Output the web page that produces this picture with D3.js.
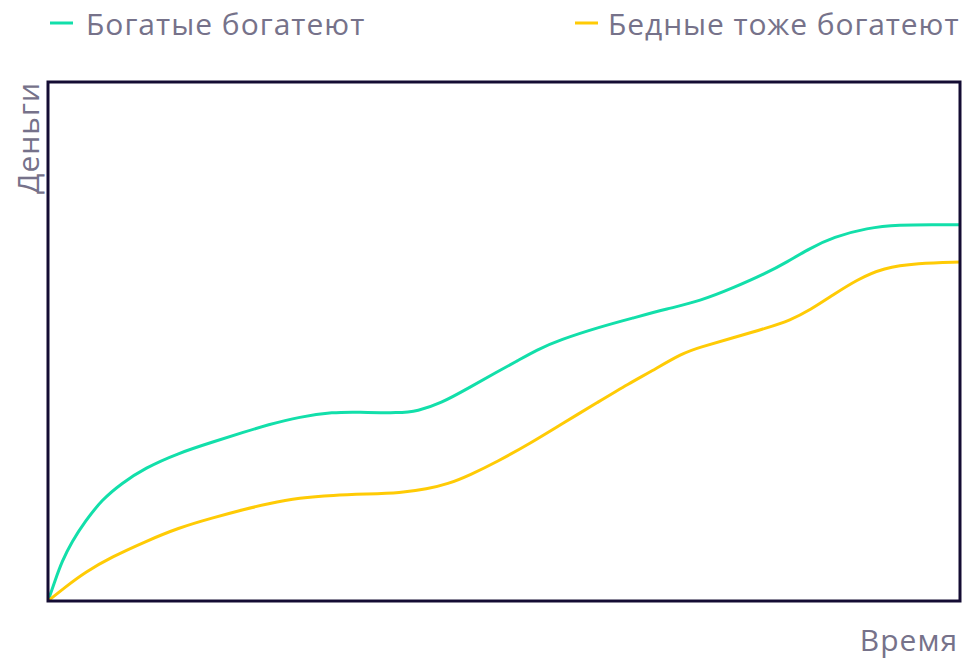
<!DOCTYPE html>
<html lang="ru">
<head>
<meta charset="utf-8">
<title>Богатые богатеют</title>
<script src="https://cdn.jsdelivr.net/npm/d3@7"></script>
<style>
  html, body { margin: 0; padding: 0; background: #ffffff; }
  svg { display: block; }
  text { font-family: "Open Sans", "Noto Sans", sans-serif; fill: #76728a; letter-spacing: 1px; }
</style>
</head>
<body>
<svg id="chart" width="962" height="659"></svg>
<script>
// Series: time (0–100) and money (0–100)
const richTime  = [0, 0.8, 1.5, 2.6, 4.1, 5.9, 8.1, 10.6, 14.3, 18.0, 21.6, 24.0, 27.6, 31.3, 33.9, 38.6, 40.5, 43.0, 46.3, 49.2, 51.4, 53.6, 56.1, 60.5, 64.1, 67.9, 71.5, 75.1, 78.8, 81.0, 83.6, 86.1, 89.8, 93.4, 97.0, 100];
const richMoney = [0, 4.05, 7.5, 11.4, 15.4, 19.5, 22.7, 25.6, 28.5, 30.6, 32.6, 33.9, 35.5, 36.4, 36.4, 36.2, 36.6, 38.0, 41.2, 44.1, 46.2, 48.4, 50.3, 52.8, 54.5, 56.3, 57.8, 60.3, 63.2, 65.3, 68.0, 70.1, 71.9, 72.5, 72.5, 72.5];

const poorTime  = [0, 1.9, 4.1, 7.0, 10.6, 14.3, 18.0, 21.6, 24.0, 27.6, 31.3, 35.0, 38.6, 41.6, 43.8, 46.3, 49.2, 52.9, 56.5, 60.2, 63.8, 66.0, 69.6, 71.5, 75.1, 78.8, 81.4, 83.6, 86.1, 88.7, 91.6, 95.3, 100];
const poorMoney = [0, 2.7, 5.6, 8.5, 11.4, 14.1, 16.0, 17.7, 18.7, 19.9, 20.4, 20.6, 20.8, 21.6, 22.5, 24.3, 26.8, 30.4, 34.3, 38.2, 42.0, 44.1, 47.8, 48.9, 50.7, 52.6, 54.1, 56.1, 59.0, 61.9, 64.2, 65.1, 65.3];

const seriesNames  = ["Богатые богатеют", "Бедные тоже богатеют"];
const seriesColors = ["#12dfaa", "#ffcb05"];
const xTitle = "Время";
const yTitle = "Деньги";

const svg = d3.select("#chart");
const margin = { left: 48, right: 2, top: 82, bottom: 58 };
const W = 962, H = 659;

const x = d3.scaleLinear().domain([0, 100]).range([margin.left, W - margin.right]);
const y = d3.scaleLinear().domain([0, 100]).range([H - margin.bottom, margin.top]);

const series = [
  { name: seriesNames[0], color: seriesColors[0], pts: richTime.map((t, i) => [t, richMoney[i]]) },
  { name: seriesNames[1], color: seriesColors[1], pts: poorTime.map((t, i) => [t, poorMoney[i]]) }
];

const line = d3.line()
  .x(d => x(d[0]))
  .y(d => y(d[1]))
  .curve(d3.curveBasis);

// Clip curves to the plot frame
svg.append("defs").append("clipPath").attr("id", "plot")
  .append("rect")
  .attr("x", x(0)).attr("y", y(100))
  .attr("width", x(100) - x(0)).attr("height", y(0) - y(100));

svg.append("g").attr("clip-path", "url(#plot)")
  .selectAll("path")
  .data(series)
  .join("path")
  .attr("d", d => line(d.pts))
  .attr("fill", "none")
  .attr("stroke", d => d.color)
  .attr("stroke-width", 3)
  .attr("stroke-linejoin", "round");

// Frame
svg.append("rect")
  .attr("x", x(0)).attr("y", y(100))
  .attr("width", x(100) - x(0)).attr("height", y(0) - y(100))
  .attr("fill", "none")
  .attr("stroke", "#140c33")
  .attr("stroke-width", 3);

// Legend: swatch + label per series
const legendX = [50, 575];
const labelGap = [36, 33];
const legend = svg.append("g").selectAll("g")
  .data(series)
  .join("g")
  .attr("transform", (d, i) => `translate(${legendX[i]},0)`);
legend.append("line")
  .attr("x1", 0).attr("x2", 23).attr("y1", 23).attr("y2", 23)
  .attr("stroke", d => d.color).attr("stroke-width", 3);
legend.append("text")
  .attr("x", (d, i) => labelGap[i]).attr("y", 35)
  .attr("font-size", 30)
  .style("letter-spacing", (d, i) => i === 0 ? "1px" : "0.9px")
  .text(d => d.name);

// Axis titles
svg.append("text")
  .attr("x", 958).attr("y", 651)
  .attr("text-anchor", "end")
  .attr("font-size", 30)
  .text(xTitle);

svg.append("text")
  .attr("transform", `translate(39,${y(100)}) rotate(-90)`)
  .attr("text-anchor", "end")
  .attr("font-size", 30)
  .text(yTitle);
</script>
</body>
</html>
